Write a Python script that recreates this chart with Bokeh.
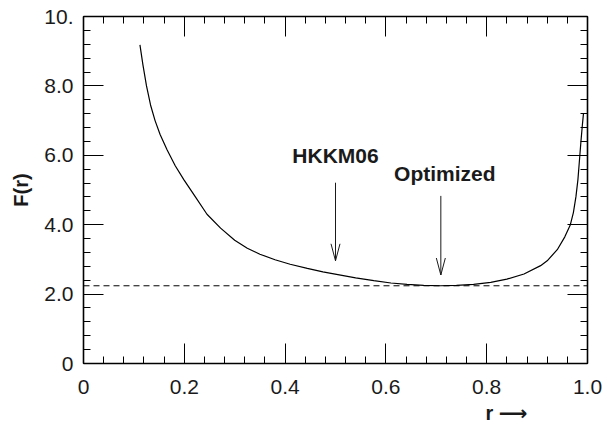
from bokeh.plotting import figure
from bokeh.models import (Range1d, LinearAxis, SingleIntervalTicker, CustomJSTickFormatter,
                          Span, Label, Title)
from bokeh.embed import file_html
from bokeh.resources import INLINE

# F(r) curve
r_vals = [0.112, 0.118, 0.125, 0.133, 0.142, 0.152, 0.166, 0.182, 0.199, 0.222,
          0.245, 0.272, 0.300, 0.325, 0.350, 0.380, 0.410, 0.444, 0.475, 0.502,
          0.540, 0.576, 0.610, 0.642, 0.675, 0.708, 0.740, 0.774, 0.808, 0.840,
          0.874, 0.907, 0.920, 0.940, 0.955, 0.966, 0.972, 0.977, 0.981, 0.984,
          0.987, 0.990, 0.992]
f_vals = [9.18, 8.60, 8.00, 7.45, 7.00, 6.60, 6.15, 5.70, 5.30, 4.80,
          4.30, 3.90, 3.55, 3.32, 3.15, 2.99, 2.86, 2.74, 2.64, 2.57,
          2.47, 2.39, 2.32, 2.28, 2.25, 2.24, 2.25, 2.28, 2.34, 2.43,
          2.58, 2.82, 2.96, 3.28, 3.65, 4.00, 4.35, 4.80, 5.30, 5.85,
          6.40, 6.90, 7.20]

# reference level (dashed)
f_min_level = 2.24

# annotated positions
arrow_labels = ["HKKM06", "Optimized"]
arrow_r = [0.5, 0.709]
arrow_top = [5.21, 4.83]
arrow_tip = [2.96, 2.55]
label_r = [0.5, 0.717]
label_f = [6.00, 5.48]

x_ticks_interval = 0.2
y_ticks_interval = 2.0

FONT = "Liberation Sans"
INK = "#1a1a1a"

p = figure(width=604, height=431, output_backend="svg", toolbar_location=None,
           x_range=Range1d(0, 1), y_range=Range1d(0, 10),
           x_axis_type=None, y_axis_type=None,
           min_border_left=83, min_border_right=17, min_border_top=16, min_border_bottom=68)
p.outline_line_color = None
p.background_fill_color = "white"
p.border_fill_color = "white"
p.xgrid.visible = False
p.ygrid.visible = False

x_fmt = CustomJSTickFormatter(code="return Math.abs(tick) < 1e-9 ? '0' : tick.toFixed(1);")
y_fmt = CustomJSTickFormatter(code="if (Math.abs(tick) < 1e-9) return '0'; if (tick >= 9.99) return '10.'; return tick.toFixed(1);")


def style_axis(ax, show_labels):
    ax.axis_line_color = "black"
    ax.axis_line_width = 1.6
    ax.major_tick_in = 20
    ax.major_tick_out = 0
    ax.minor_tick_in = 7
    ax.minor_tick_out = 0
    ax.major_tick_line_color = "black"
    ax.minor_tick_line_color = "black"
    ax.major_tick_line_width = 1
    ax.minor_tick_line_width = 1
    if show_labels:
        ax.major_label_text_font = FONT
        ax.major_label_text_font_size = "21px"
        ax.major_label_text_color = INK
    else:
        ax.major_label_text_font_size = "0px"
        ax.major_label_text_alpha = 0


bottom = LinearAxis(ticker=SingleIntervalTicker(interval=x_ticks_interval, num_minor_ticks=5),
                    formatter=x_fmt)
style_axis(bottom, True)
bottom.major_label_standoff = 16
p.add_layout(bottom, "below")

top = LinearAxis(ticker=SingleIntervalTicker(interval=x_ticks_interval, num_minor_ticks=5),
                 formatter=x_fmt)
style_axis(top, False)
p.add_layout(top, "above")

left = LinearAxis(ticker=SingleIntervalTicker(interval=y_ticks_interval, num_minor_ticks=5),
                  formatter=y_fmt)
style_axis(left, True)
left.major_label_standoff = 10
left.axis_label = "F(r)"
left.axis_label_text_font = FONT
left.axis_label_text_font_style = "bold"
left.axis_label_text_font_size = "20px"
left.axis_label_text_color = INK
left.axis_label_standoff = 9
p.add_layout(left, "left")

right = LinearAxis(ticker=SingleIntervalTicker(interval=y_ticks_interval, num_minor_ticks=5),
                   formatter=y_fmt)
style_axis(right, False)
p.add_layout(right, "right")

# x-axis title: "r" followed by a long arrow, right of centre
p.add_layout(Title(text="r \u27f6", align="right", offset=60, standoff=7,
                   text_font="'Liberation Sans', 'DejaVu Sans'", text_font_style="bold",
                   text_font_size="20px", text_color=INK), "below")

# dashed reference level across the whole frame
p.add_layout(Span(location=f_min_level, dimension="width", line_color="black",
                  line_width=1, line_dash="6 4"))

# the curve
p.line(r_vals, f_vals, line_color="black", line_width=1.2)

# vertical arrows with long, narrow open heads
px_per_r = 504.0
px_per_f = 34.72
head_half_w = 4.5 / px_per_r
head_len = 17.0 / px_per_f
p.segment(x0=arrow_r, y0=arrow_top, x1=arrow_r, y1=arrow_tip, line_color=INK, line_width=1)
p.segment(x0=[r - head_half_w for r in arrow_r], y0=[t + head_len for t in arrow_tip],
          x1=arrow_r, y1=arrow_tip, line_color=INK, line_width=1)
p.segment(x0=[r + head_half_w for r in arrow_r], y0=[t + head_len for t in arrow_tip],
          x1=arrow_r, y1=arrow_tip, line_color=INK, line_width=1)

for txt, lr, lf in zip(arrow_labels, label_r, label_f):
    p.add_layout(Label(x=lr, y=lf, text=txt, text_align="center", text_baseline="alphabetic",
                       text_font=FONT, text_font_style="bold", text_font_size="21px",
                       text_color=INK))

open("out.html", "w").write(file_html(p, INLINE))
